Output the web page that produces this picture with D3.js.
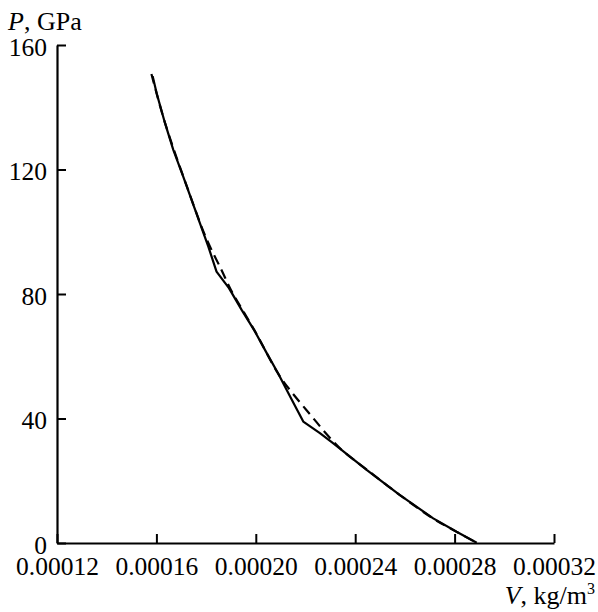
<!DOCTYPE html>
<html>
<head>
<meta charset="utf-8">
<script src="https://cdn.jsdelivr.net/npm/d3@7"></script>
<style>
  html, body { margin: 0; padding: 0; background: #fff; }
  svg { display: block; }
  text { font-family: "Liberation Serif", "Times New Roman", serif; fill: #000; }
</style>
</head>
<body>
<svg id="chart" width="598" height="612"></svg>
<script>
// Solid curve (V, P in GPa)
const solidV = [0.0001585, 0.0001601, 0.0001635, 0.0001668, 0.0001708, 0.0001742, 0.0001775, 0.0001809, 0.0001842, 0.0001892, 0.0001943, 0.0001997, 0.0002044, 0.0002089, 0.0002138, 0.0002191, 0.0002258, 0.0002312, 0.0002446, 0.0002580, 0.0002714, 0.0002808, 0.0002889];
const solidP = [150.0, 144.5, 134.8, 126.3, 117.7, 110.2, 102.8, 95.2, 87.2, 81.9, 74.9, 67.9, 61.0, 54.6, 47.1, 39.0, 35.3, 32.0, 23.5, 15.4, 7.9, 3.6, 0.1];

// Dashed curve
const dashV = [0.0001580, 0.0001635, 0.0001735, 0.0001800, 0.0001862, 0.0001900, 0.0001997, 0.0002093, 0.0002160, 0.0002224, 0.0002288, 0.0002350, 0.0002448, 0.0002580, 0.0002713, 0.0002810, 0.0002890];
const dashP = [150.7, 134.9, 111.8, 98.0, 87.7, 81.3, 68.0, 54.0, 46.9, 40.8, 34.7, 29.6, 23.5, 15.4, 7.9, 3.5, 0.0];

const xTicks = [0.00012, 0.00016, 0.00020, 0.00024, 0.00028, 0.00032];
const xTickLabels = ["0.00012", "0.00016", "0.00020", "0.00024", "0.00028", "0.00032"];
const yTicks = [0, 40, 80, 120, 160];
const yTickLabels = ["0", "40", "80", "120", "160"];

const svg = d3.select("#chart");
const mLeft = 57, mRight = 554, mTop = 45, mBottom = 543;

const x = d3.scaleLinear().domain([0.00012, 0.00032]).range([mLeft, mRight]);
const y = d3.scaleLinear().domain([0, 160]).range([mBottom, mTop]);

const fs = 25.5;
const fam = '"Liberation Serif", "Times New Roman", serif';

// X axis
const xAxis = svg.append("g")
  .attr("transform", `translate(0,${mBottom})`)
  .call(d3.axisBottom(x).tickValues(xTicks).tickFormat((d, i) => xTickLabels[i]).tickSizeInner(-9).tickSizeOuter(0));
xAxis.select(".domain").attr("stroke", "#000").attr("stroke-width", 2.2);
xAxis.selectAll(".tick line").attr("stroke", "#000").attr("stroke-width", 2);
xAxis.selectAll(".tick text").attr("y", 32).attr("dy", 0)
  .style("font-family", fam).style("font-size", fs + "px").attr("fill", "#000");

// Y axis
const yAxis = svg.append("g")
  .attr("transform", `translate(${mLeft},0)`)
  .call(d3.axisLeft(y).tickValues(yTicks).tickFormat((d, i) => yTickLabels[i]).tickSizeInner(-9).tickSizeOuter(0));
yAxis.select(".domain").attr("stroke", "#000").attr("stroke-width", 2.2);
yAxis.selectAll(".tick line").attr("stroke", "#000").attr("stroke-width", 2);
yAxis.selectAll(".tick text").attr("x", -10).attr("y", 10).attr("dy", 0)
  .style("font-family", fam).style("font-size", fs + "px").attr("fill", "#000");

// Curves
const solidData = solidV.map((v, i) => [v, solidP[i]]);
const dashData = dashV.map((v, i) => [v, dashP[i]]);

const lineLin = d3.line().x(d => x(d[0])).y(d => y(d[1])).curve(d3.curveLinear);
const lineSmooth = d3.line().x(d => x(d[0])).y(d => y(d[1])).curve(d3.curveCatmullRom.alpha(0.5));

svg.append("path").datum(dashData)
  .attr("d", lineSmooth)
  .attr("fill", "none").attr("stroke", "#000").attr("stroke-width", 2.2)
  .attr("stroke-dasharray", "10,6");

svg.append("path").datum(solidData)
  .attr("d", lineLin)
  .attr("fill", "none").attr("stroke", "#000").attr("stroke-width", 2.2)
  .attr("stroke-linejoin", "round");

// Axis titles
const yt = svg.append("text").attr("x", 8).attr("y", 30).style("font-family", fam).style("font-size", "26px");
yt.append("tspan").attr("font-style", "italic").text("P");
yt.append("tspan").text(", GPa");

const xt = svg.append("text").attr("x", 595).attr("y", 604).attr("text-anchor", "end").style("font-family", fam).style("font-size", "26px");
xt.append("tspan").attr("font-style", "italic").text("V");
xt.append("tspan").text(", kg/m");
xt.append("tspan").attr("font-size", "16px").attr("dy", -10).text("3");
</script>
</body>
</html>
